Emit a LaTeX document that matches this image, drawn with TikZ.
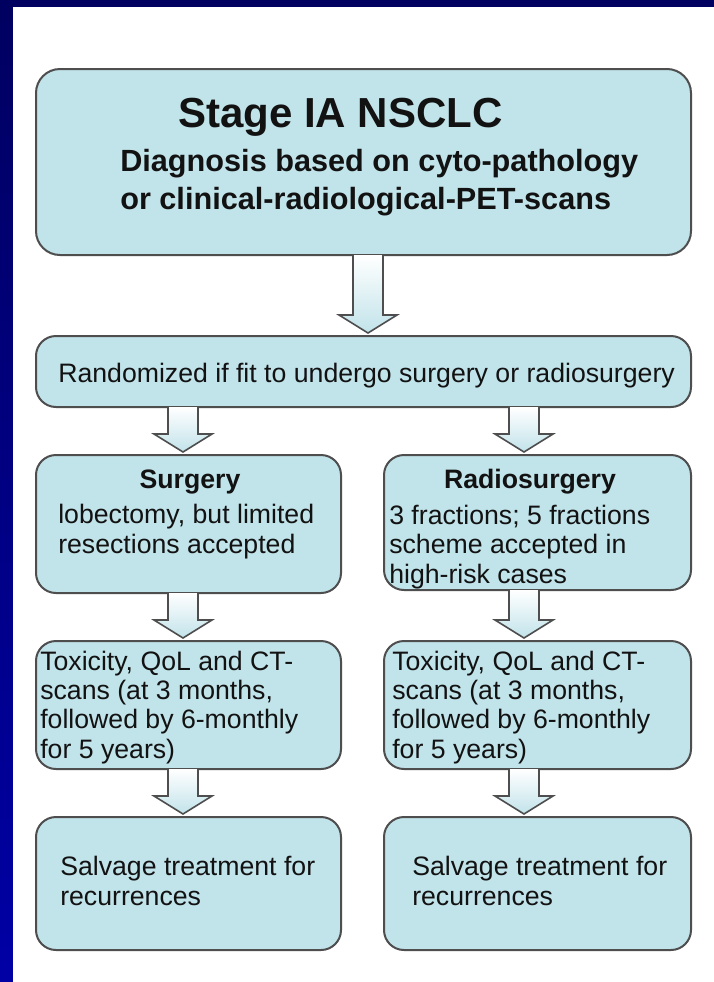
\documentclass[tikz,border=0pt]{standalone}
\usepackage{fontspec}
\setmainfont{Liberation Sans}
\usetikzlibrary{calc,fit}

\definecolor{navy}{RGB}{0,0,96}
\definecolor{deepblue}{RGB}{0,0,165}
\definecolor{boxfill}{RGB}{193,227,234}
\definecolor{boxline}{RGB}{78,78,78}
\definecolor{ink}{RGB}{18,18,18}

% block arrow straight down at x=#1, from box #2 to box #3
\newcommand{\fatarrow}[3]{%
  \path (#2.south -| #1,0) coordinate (s) (#3.north -| #1,0) coordinate (e);
  \draw[fat] ($(s)+(-15,0)$) -- ($(e)+(-15,-21)$) -- ($(e)+(-29,-21)$)
    -- ($(e)+(0,-3)$) -- ($(e)+(29,-21)$) -- ($(e)+(15,-21)$) -- ($(s)+(15,0)$);
}

\begin{document}
\begin{tikzpicture}[x=0.75pt, y=-0.75pt,
  box/.style={draw=boxline, line width=1.5pt, fill=boxfill, rounded corners=15pt,
              inner sep=0pt, outer sep=0pt},
  txt/.style={inner sep=0pt, anchor=base west, text=ink, align=left,
              font=\fontsize{20pt}{22pt}\selectfont},
  head/.style={inner sep=0pt, anchor=base, text=ink,
              font=\fontsize{20pt}{22pt}\selectfont\bfseries},
  fat/.style={draw=boxline, line width=1.2pt, top color=white, bottom color=boxfill}]

\useasboundingbox (0,0) rectangle (714,982);

% FRAME
  \fill[navy] (0,0) rectangle (714,7);
  \shade[top color=navy, bottom color=deepblue] (0,0) rectangle (13,982);
  \fill[white] (13,7) rectangle (714,982);

% BOXES
  \node[box, rounded corners=18pt, fit={(36,69) (691,255)}] (diag) {};
  \node[box, fit={(36,336) (691,407)}] (rand) {};
  \node[box, fit={(36,455) (341,593)}] (surg) {};
  \node[box, fit={(384,455) (691,590)}] (radio) {};
  \node[box, fit={(36,641) (341,769)}] (toxL) {};
  \node[box, fit={(384,641) (691,769)}] (toxR) {};
  \node[box, fit={(36,817) (341,950)}] (salvL) {};
  \node[box, fit={(384,817) (691,950)}] (salvR) {};

% ARROWS
  \fatarrow{368}{diag}{rand}
  \foreach \x/\a/\b in {183/rand/surg, 524/rand/radio, 183/surg/toxL,
                        524/radio/toxR, 183/toxL/salvL, 524/toxR/salvR}
    {\fatarrow{\x}{\a}{\b}}

% TEXT (multi-line nodes sit on the baseline of their last line)
  \node[txt, font=\fontsize{31.5pt}{36pt}\selectfont\bfseries] (stage) at (178,127) {Stage IA NSCLC};
  \node[txt, font=\fontsize{23pt}{28.5pt}\selectfont\bfseries] (diagtxt) at (120,209)
    {Diagnosis based on cyto-pathology\\or clinical-radiological-PET-scans};

  \node[txt] (randtxt) at (58,382) {Randomized if fit to undergo surgery or radiosurgery};

  \node[head] (surgtitle) at (190,488) {Surgery};
  \node[txt] (surgtxt) at (58,553) {lobectomy, but limited\\resections accepted};
  \node[head] (radiotitle) at (530,488) {Radiosurgery};
  \node[txt] (radiotxt) at (389,583) {3 fractions; 5 fractions\\scheme accepted in\\high-risk cases};

  \foreach \x/\side in {40/L, 392/R} {
    \node[txt] (toxtxt\side) at (\x,758) {Toxicity, QoL and CT-\\scans (at 3 months,\\followed by 6-monthly\\for 5 years)};
    \node[txt] (salvtxt\side) at (\x+20,905) {Salvage treatment for\\recurrences};
  }
\end{tikzpicture}
\end{document}
